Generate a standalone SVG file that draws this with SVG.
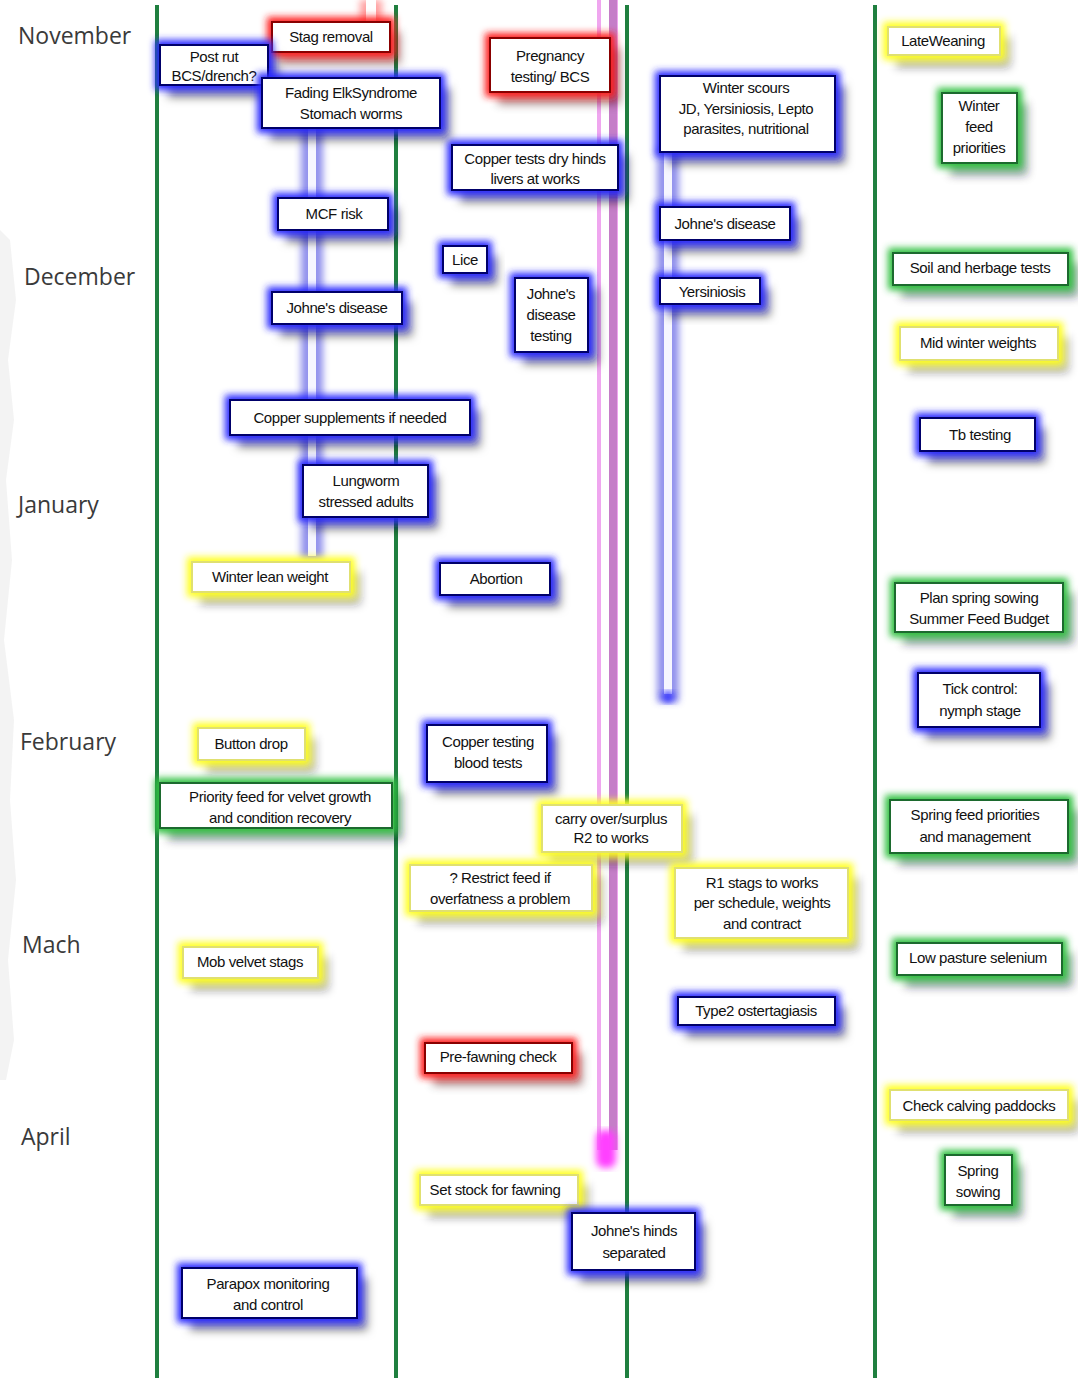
<svg xmlns="http://www.w3.org/2000/svg" width="1078" height="1384" viewBox="0 0 1078 1384">
<defs>
<style>
.month{font-family:"Open Sans","Liberation Sans",sans-serif;font-size:23px;fill:#3a3a3a}
.t{font-family:"Liberation Sans","DejaVu Sans",sans-serif;font-size:15px;fill:#111;text-anchor:middle;letter-spacing:-0.4px}
.bb{fill:#fff;stroke:#00006a;stroke-width:2;filter:url(#gB)}
.br{fill:#fff;stroke:#8a0000;stroke-width:2;filter:url(#gR)}
.by{fill:#fff;stroke:#e0e070;stroke-width:2;filter:url(#gY)}
.bg{fill:#fff;stroke:#1f6b2e;stroke-width:2;filter:url(#gG)}
.lane{stroke:#1f7f3f;stroke-width:4;fill:none}
</style>
<filter id="gB" x="-40%" y="-60%" width="180%" height="240%">
<feMorphology in="SourceAlpha" operator="dilate" radius="4" result="d"/>
<feGaussianBlur in="d" stdDeviation="3.5" result="b"/>
<feFlood flood-color="#2a2aff"/>
<feComposite in2="b" operator="in" result="glow"/>
<feOffset in="SourceAlpha" dx="9" dy="11" result="o"/>
<feGaussianBlur in="o" stdDeviation="5" result="ob"/>
<feFlood flood-color="#000" flood-opacity="0.55"/>
<feComposite in2="ob" operator="in" result="sh"/>
<feMerge><feMergeNode in="sh"/><feMergeNode in="glow"/><feMergeNode in="SourceGraphic"/></feMerge>
</filter>
<filter id="gR" x="-40%" y="-60%" width="180%" height="240%">
<feMorphology in="SourceAlpha" operator="dilate" radius="4" result="d"/>
<feGaussianBlur in="d" stdDeviation="3.5" result="b"/>
<feFlood flood-color="#ff2020"/>
<feComposite in2="b" operator="in" result="glow"/>
<feOffset in="SourceAlpha" dx="9" dy="11" result="o"/>
<feGaussianBlur in="o" stdDeviation="5" result="ob"/>
<feFlood flood-color="#400" flood-opacity="0.5"/>
<feComposite in2="ob" operator="in" result="sh"/>
<feMerge><feMergeNode in="sh"/><feMergeNode in="glow"/><feMergeNode in="SourceGraphic"/></feMerge>
</filter>
<filter id="gY" x="-40%" y="-60%" width="180%" height="240%">
<feMorphology in="SourceAlpha" operator="dilate" radius="4" result="d"/>
<feGaussianBlur in="d" stdDeviation="3.5" result="b"/>
<feFlood flood-color="#ffff20"/>
<feComposite in2="b" operator="in" result="glow"/>
<feOffset in="SourceAlpha" dx="9" dy="11" result="o"/>
<feGaussianBlur in="o" stdDeviation="5" result="ob"/>
<feFlood flood-color="#222" flood-opacity="0.45"/>
<feComposite in2="ob" operator="in" result="sh"/>
<feMerge><feMergeNode in="sh"/><feMergeNode in="glow"/><feMergeNode in="SourceGraphic"/></feMerge>
</filter>
<filter id="gG" x="-40%" y="-60%" width="180%" height="240%">
<feMorphology in="SourceAlpha" operator="dilate" radius="4" result="d"/>
<feGaussianBlur in="d" stdDeviation="3.5" result="b"/>
<feFlood flood-color="#30c040"/>
<feComposite in2="b" operator="in" result="glow"/>
<feOffset in="SourceAlpha" dx="9" dy="11" result="o"/>
<feGaussianBlur in="o" stdDeviation="5" result="ob"/>
<feFlood flood-color="#123" flood-opacity="0.5"/>
<feComposite in2="ob" operator="in" result="sh"/>
<feMerge><feMergeNode in="sh"/><feMergeNode in="glow"/><feMergeNode in="SourceGraphic"/></feMerge>
</filter>
<filter id="blur3" x="-100%" y="-10%" width="300%" height="120%"><feGaussianBlur stdDeviation="3.5"/></filter>
</defs>
<rect width="1078" height="1384" fill="#fff"/>
<path d="M0 230 L10 240 L16 300 L8 360 L14 420 L6 480 L12 560 L4 640 L14 720 L10 800 L16 880 L8 960 L14 1040 L6 1080 L0 1080 Z" fill="#d6d6d6" opacity="0.3"/>

<g id="months">
<text class="month" x="18" y="44">November</text>
<text class="month" x="24" y="285">December</text>
<text class="month" x="18" y="513">January</text>
<text class="month" x="20" y="750">February</text>
<text class="month" x="22" y="953">Mach</text>
<text class="month" x="21" y="1145">April</text>
</g>

<g id="lanes">
<line class="lane" x1="157" y1="5" x2="157" y2="1378"/>
<line class="lane" x1="396" y1="5" x2="396" y2="1378"/>
<line class="lane" x1="627" y1="5" x2="627" y2="1378"/>
<line class="lane" x1="875" y1="5" x2="875" y2="1378"/>
</g>

<g id="connectors">
<rect x="360" y="0" width="22" height="26" fill="#ff6060" opacity="0.6" filter="url(#blur3)"/>
<rect x="366" y="0" width="10" height="24" fill="#fff"/>
<rect x="301" y="122" width="22" height="438" fill="#4646e0" opacity="0.6" filter="url(#blur3)"/>
<rect x="308" y="122" width="8" height="434" fill="#f6f6ff"/>
<rect x="657" y="148" width="22" height="554" fill="#4646e0" opacity="0.6" filter="url(#blur3)"/>
<rect x="664" y="148" width="8" height="546" fill="#f6f6ff"/>
<circle cx="668" cy="697" r="6" fill="#3030ff" filter="url(#blur3)"/>
<rect x="597" y="0" width="21" height="1150" fill="#efa6ef"/>
<rect x="601" y="0" width="8" height="1140" fill="#fff"/>
<rect x="609" y="0" width="8" height="1150" fill="#c57ec8"/>
<rect x="596" y="1130" width="20" height="38" rx="8" fill="#ff40ff" filter="url(#blur3)"/>
</g>

<g id="n1"><rect class="br" x="272" y="22" width="118" height="30"/><text class="t" x="331" y="42">Stag removal</text></g>
<g id="n2"><rect class="bb" x="160" y="45" width="108" height="40"/><text class="t" x="214" y="62">Post rut</text><text class="t" x="214" y="81">BCS/drench?</text></g>
<g id="n3"><rect class="br" x="490" y="38" width="120" height="54"/><text class="t" x="550" y="61">Pregnancy</text><text class="t" x="550" y="82">testing/ BCS</text></g>
<g id="n4"><rect class="bb" x="262" y="78" width="178" height="50"/><text class="t" x="351" y="98">Fading ElkSyndrome</text><text class="t" x="351" y="119">Stomach worms</text></g>
<g id="n5"><rect class="bb" x="452" y="145" width="166" height="45"/><text class="t" x="535" y="164">Copper tests dry hinds</text><text class="t" x="535" y="184">livers at works</text></g>
<g id="n6"><rect class="bb" x="660" y="76" width="175" height="76"/><text class="t" x="746" y="93">Winter scours</text><text class="t" x="746" y="114">JD, Yersiniosis, Lepto</text><text class="t" x="746" y="134">parasites, nutritional</text></g>
<g id="n7"><rect class="by" x="888" y="27" width="112" height="28"/><text class="t" x="943" y="46">LateWeaning</text></g>
<g id="n8"><rect class="bg" x="942" y="93" width="75" height="70"/><text class="t" x="979" y="111">Winter</text><text class="t" x="979" y="132">feed</text><text class="t" x="979" y="153">priorities</text></g>
<g id="n9"><rect class="bb" x="278" y="198" width="110" height="32"/><text class="t" x="334" y="219">MCF risk</text></g>
<g id="n10"><rect class="bb" x="660" y="207" width="130" height="33"/><text class="t" x="725" y="229">Johne's disease</text></g>
<g id="n11"><rect class="bb" x="443" y="246" width="44" height="27"/><text class="t" x="465" y="265">Lice</text></g>
<g id="n12"><rect class="bg" x="893" y="253" width="175" height="32"/><text class="t" x="980" y="273">Soil and herbage tests</text></g>
<g id="n13"><rect class="bb" x="515" y="278" width="73" height="74"/><text class="t" x="551" y="299">Johne's</text><text class="t" x="551" y="320">disease</text><text class="t" x="551" y="341">testing</text></g>
<g id="n14"><rect class="bb" x="660" y="278" width="100" height="26"/><text class="t" x="712" y="297">Yersiniosis</text></g>
<g id="n15"><rect class="bb" x="272" y="292" width="130" height="32"/><text class="t" x="337" y="313">Johne's disease</text></g>
<g id="n16"><rect class="by" x="900" y="327" width="158" height="33"/><text class="t" x="978" y="348">Mid winter weights</text></g>
<g id="n17"><rect class="bb" x="230" y="400" width="240" height="35"/><text class="t" x="350" y="423">Copper supplements if needed</text></g>
<g id="n18"><rect class="bb" x="920" y="418" width="115" height="33"/><text class="t" x="980" y="440">Tb testing</text></g>
<g id="n19"><rect class="bb" x="303" y="465" width="125" height="52"/><text class="t" x="366" y="486">Lungworm</text><text class="t" x="366" y="507">stressed adults</text></g>
<g id="n20"><rect class="by" x="192" y="562" width="158" height="30"/><text class="t" x="270" y="582">Winter lean weight</text></g>
<g id="n21"><rect class="bb" x="440" y="563" width="110" height="32"/><text class="t" x="496" y="584">Abortion</text></g>
<g id="n22"><rect class="bg" x="895" y="583" width="168" height="49"/><text class="t" x="979" y="603">Plan spring sowing</text><text class="t" x="979" y="624">Summer Feed Budget</text></g>
<g id="n23"><rect class="bb" x="918" y="673" width="122" height="54"/><text class="t" x="980" y="694">Tick control:</text><text class="t" x="980" y="716">nymph stage</text></g>
<g id="n24"><rect class="by" x="198" y="728" width="107" height="32"/><text class="t" x="251" y="749">Button drop</text></g>
<g id="n25"><rect class="bb" x="427" y="725" width="120" height="57"/><text class="t" x="488" y="747">Copper testing</text><text class="t" x="488" y="768">blood tests</text></g>
<g id="n26"><rect class="bg" x="160" y="783" width="232" height="45"/><text class="t" x="280" y="802">Priority feed for velvet growth</text><text class="t" x="280" y="823">and condition recovery</text></g>
<g id="n27"><rect class="bg" x="890" y="800" width="178" height="53"/><text class="t" x="975" y="820">Spring feed priorities</text><text class="t" x="975" y="842">and management</text></g>
<g id="n28"><rect class="by" x="542" y="805" width="140" height="47"/><text class="t" x="611" y="824">carry over/surplus</text><text class="t" x="611" y="843">R2  to works</text></g>
<g id="n29"><rect class="by" x="410" y="865" width="182" height="46"/><text class="t" x="500" y="883">? Restrict feed if</text><text class="t" x="500" y="904">overfatness a problem</text></g>
<g id="n30"><rect class="by" x="675" y="868" width="173" height="70"/><text class="t" x="762" y="888">R1 stags to works</text><text class="t" x="762" y="908">per schedule, weights</text><text class="t" x="762" y="929">and contract</text></g>
<g id="n31"><rect class="by" x="183" y="947" width="135" height="31"/><text class="t" x="250" y="967">Mob velvet stags</text></g>
<g id="n32"><rect class="bg" x="897" y="943" width="165" height="32"/><text class="t" x="978" y="963">Low pasture selenium</text></g>
<g id="n33"><rect class="bb" x="678" y="997" width="157" height="28"/><text class="t" x="756" y="1016">Type2 ostertagiasis</text></g>
<g id="n34"><rect class="br" x="425" y="1043" width="147" height="30"/><text class="t" x="498" y="1062">Pre-fawning check</text></g>
<g id="n35"><rect class="by" x="890" y="1090" width="178" height="30"/><text class="t" x="979" y="1111">Check calving paddocks</text></g>
<g id="n36"><rect class="bg" x="945" y="1155" width="67" height="50"/><text class="t" x="978" y="1176">Spring</text><text class="t" x="978" y="1197">sowing</text></g>
<g id="n37"><rect class="by" x="420" y="1175" width="158" height="30"/><text class="t" x="495" y="1195">Set stock for fawning</text></g>
<g id="n38"><rect class="bb" x="572" y="1213" width="123" height="57"/><text class="t" x="634" y="1236">Johne's hinds</text><text class="t" x="634" y="1258">separated</text></g>
<g id="n39"><rect class="bb" x="182" y="1268" width="175" height="50"/><text class="t" x="268" y="1289">Parapox monitoring</text><text class="t" x="268" y="1310">and control</text></g>
</svg>
